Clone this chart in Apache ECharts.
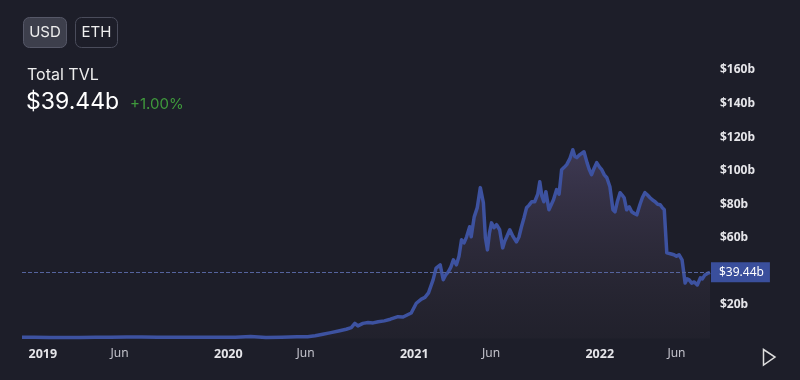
<!DOCTYPE html>
<html>
<head>
<meta charset="utf-8">
<script src="https://cdn.jsdelivr.net/npm/echarts@6/dist/echarts.min.js"></script>
<style>
html,body{margin:0;padding:0;background:#1d1e29;}
#chart{width:800px;height:380px;}
</style>
</head>
<body>
<div id="chart"></div>
<script>
const dates = [
'2018-11-21','2018-12-15','2019-01-15','2019-02-15','2019-03-15','2019-04-15','2019-05-15','2019-06-15','2019-07-15','2019-08-15',
'2019-09-15','2019-10-15','2019-11-15','2019-12-15','2020-01-15','2020-02-14','2020-03-15','2020-04-15','2020-05-15','2020-06-05',
'2020-06-20','2020-07-05','2020-07-21','2020-08-05','2020-08-20','2020-08-30','2020-09-06','2020-09-12','2020-09-22','2020-10-02',
'2020-10-12','2020-10-22','2020-11-03','2020-11-15','2020-11-30','2020-12-10','2020-12-26','2021-01-05','2021-01-15','2021-01-22','2021-01-29',
'2021-02-07','2021-02-13','2021-02-21','2021-02-27','2021-03-04','2021-03-09','2021-03-14','2021-03-19','2021-03-25','2021-03-30','2021-04-04','2021-04-09','2021-04-14','2021-04-20',
'2021-04-23','2021-04-29','2021-05-05','2021-05-11','2021-05-17','2021-05-21','2021-05-25','2021-05-29','2021-06-02','2021-06-07','2021-06-12','2021-06-18','2021-06-24','2021-06-28','2021-07-02',
'2021-07-08','2021-07-14','2021-07-21','2021-07-26','2021-07-31','2021-08-05','2021-08-10','2021-08-15','2021-08-20','2021-08-26','2021-09-01','2021-09-05','2021-09-09','2021-09-13','2021-09-17','2021-09-23',
'2021-09-28','2021-10-02','2021-10-08','2021-10-13','2021-10-18','2021-10-23','2021-10-28','2021-11-03','2021-11-09','2021-11-13','2021-11-17','2021-11-23','2021-12-01','2021-12-07','2021-12-11','2021-12-16',
'2021-12-21','2021-12-26','2022-01-01','2022-01-05','2022-01-10','2022-01-15','2022-01-21','2022-01-27','2022-01-31','2022-02-05','2022-02-10','2022-02-14','2022-02-18','2022-02-23','2022-02-28','2022-03-05',
'2022-03-10','2022-03-15','2022-03-21','2022-03-26','2022-03-31','2022-04-05','2022-04-10','2022-04-15','2022-04-20','2022-04-25','2022-04-30','2022-05-04','2022-05-08','2022-05-13','2022-05-20','2022-05-27','2022-06-01','2022-06-06',
'2022-06-12','2022-06-18','2022-06-22','2022-06-26','2022-07-01','2022-07-06','2022-07-12','2022-07-18','2022-07-22','2022-07-27','2022-08-01','2022-08-06'
];
const tvl = [
0.7,0.7,0.6,0.6,0.6,0.7,0.8,0.9,0.9,0.8,
0.8,0.7,0.7,0.7,0.8,1.2,0.6,0.8,1.0,1.1,
1.6,2.5,3.5,4.5,5.5,6.5,9.0,7.5,9.0,9.5,
9.3,10.0,10.5,11.5,13.0,12.8,15.2,21.0,23.5,24.5,27.2,
34.9,42.0,43.9,35.0,38.0,39.7,42.5,46.9,43.9,49.0,58.8,57.0,60.6,66.6,
60.6,72.5,78.0,89.9,80.9,60.0,52.8,63.0,68.9,66.0,67.8,64.8,54.0,58.0,60.6,
64.8,61.0,57.6,60.5,66.6,72.0,77.9,79.5,81.5,81.5,86.0,93.4,85.0,81.5,87.5,76.7,
80.0,82.7,88.7,86.0,100.6,102.0,103.6,107.0,112.5,108.5,107.8,109.6,111.3,104.8,101.0,97.6,
101.5,104.8,102.0,100.6,97.5,95.8,90.4,76.7,75.5,82.0,86.9,85.5,83.9,76.7,78.5,75.5,
74.5,73.7,79.7,84.0,86.9,85.5,83.9,82.5,81.5,80.0,79.7,78.0,76.7,51.0,50.5,49.9,49.0,49.9,
46.9,33.1,35.5,34.9,33.0,33.7,31.9,36.1,35.5,37.9,38.8,39.44
];
const xTickDates = ['2019-01-01','2019-06-01','2020-01-01','2020-06-01','2021-01-01','2021-06-01','2022-01-01','2022-06-01'];
const xTickLabels = ['2019','Jun','2020','Jun','2021','Jun','2022','Jun'];
const yTicks = [0,20,40,60,80,100,120,140,160];
const currentValue = 39.44;
const headerTitle = 'Total TVL';
const headerValue = '$39.44b';
const headerChange = '+1.00%';
const currencyButtons = ['USD','ETH'];

const ts = d => Date.UTC(+d.slice(0,4), +d.slice(5,7)-1, +d.slice(8,10));
const chart = echarts.init(document.getElementById('chart'), null, {renderer:'canvas'});
const seriesData = dates.map((d,i)=>[ts(d), tvl[i]]);
const tickTs = xTickDates.map(ts);
const FONT = 'Inter, "Noto Sans", sans-serif';
const AXFONT = '"Noto Sans", Inter, sans-serif';

chart.setOption({
  backgroundColor:'#1d1e29',
  animation:false,
  grid:{left:22,right:90,top:70,bottom:41.5},
  xAxis:{
    type:'value',
    min:ts(dates[0]), max:ts(dates[dates.length-1]),
    axisLine:{show:false}, axisTick:{show:false}, splitLine:{show:false},
    axisLabel:{
      customValues: tickTs,
      margin:9,
      formatter:function(v){
        const i = tickTs.indexOf(v);
        const t = i>=0 ? xTickLabels[i] : '';
        return t==='Jun' ? '{m|'+t+'}' : '{y|'+t+'}';
      },
      rich:{
        y:{color:'#e6e6ea',fontWeight:'bold',fontSize:12.5,fontFamily:AXFONT},
        m:{color:'#c4c4cc',fontSize:12,fontFamily:AXFONT}
      }
    }
  },
  yAxis:{
    type:'value', position:'right', min:yTicks[0], max:yTicks[yTicks.length-1], interval:20,
    axisLine:{show:false}, axisTick:{show:false}, splitLine:{show:false},
    axisLabel:{
      margin:10, color:'#e6e6ea', fontWeight:'bold', fontSize:12, fontFamily:AXFONT,
      formatter:function(v){ return (v===0||v===40)?'':'$'+v+'b'; }
    }
  },
  series:[{
    type:'line',
    data:seriesData,
    showSymbol:false,
    smooth:false,
    lineStyle:{color:'#3d52a0',width:3.5,join:'round'},
    areaStyle:{
      color:new echarts.graphic.LinearGradient(0,0,0,1,[
        {offset:0,color:'rgba(115,100,150,0.55)'},
        {offset:1,color:'rgba(70,60,72,0.15)'}
      ])
    },
    markLine:{
      symbol:'none', silent:true,
      lineStyle:{type:'dashed',color:'#55649e',width:1},
      label:{
        position:'end', distance:1,
        formatter:'$39.44b',
        backgroundColor:'#3a4f9c', color:'#ffffff', fontSize:12, fontFamily:AXFONT,
        padding:[4,6,4,8]
      },
      data:[{yAxis:currentValue}]
    }
  }],
  graphic:[
    {type:'rect',shape:{x:23.5,y:17.5,width:43,height:30,r:6},style:{fill:'#3d3f4c',stroke:'#565868',lineWidth:1}},
    {type:'text',x:45,y:32.5,style:{text:currencyButtons[0],fill:'#eeeeee',font:'15px '+FONT,align:'center',verticalAlign:'middle'}},
    {type:'rect',shape:{x:75.5,y:17.5,width:42,height:30,r:6},style:{fill:'transparent',stroke:'#4a4c5b',lineWidth:1}},
    {type:'text',x:96.5,y:32.5,style:{text:currencyButtons[1],fill:'#eeeeee',font:'15px '+FONT,align:'center',verticalAlign:'middle'}},
    {type:'text',x:27,y:75,style:{text:headerTitle,fill:'#eeeeee',font:'16px '+FONT,verticalAlign:'middle'}},
    {type:'text',x:26,y:102,style:{text:headerValue,fill:'#ffffff',font:'23px '+FONT,verticalAlign:'middle'}},
    {type:'text',x:130,y:104,style:{text:headerChange,fill:'#3f9a3c',font:'15px '+FONT,verticalAlign:'middle'}},
    {type:'polygon',shape:{points:[[763.5,349.5],[763.5,365],[775,357]]},style:{fill:'none',stroke:'#dddddd',lineWidth:1.5}}
  ]
});
</script>
</body>
</html>
